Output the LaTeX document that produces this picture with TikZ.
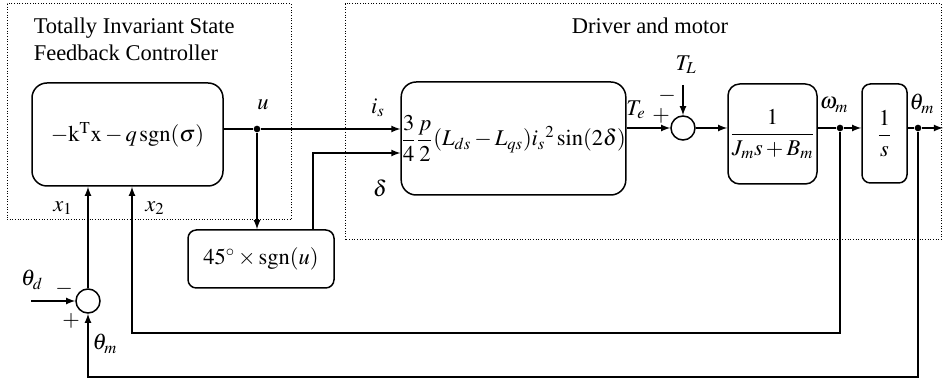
\documentclass[12pt,tikz,border=0pt]{standalone}
\usepackage{amsmath}
\usepackage{mathptmx}
\usepackage{fontspec}
\setmainfont{Liberation Serif}

\begin{document}
\begin{tikzpicture}[x=0.6pt, y=-0.6pt, >=latex, line width=0.9pt,
  font=\fontsize{13.5}{16}\selectfont,
  block/.style={draw, rounded corners=9pt, inner sep=1pt, align=center},
  sumnode/.style={draw, circle, minimum size=14.4pt, inner sep=0pt},
  junc/.style={circle, fill, inner sep=0pt, minimum size=4pt},
  lbl/.style={inner sep=0.5pt},
  frame/.style={densely dotted, line width=0.6pt}]
  \useasboundingbox (0,0) rectangle (944,383);

  % Dotted frames with their titles
  \draw[frame] (7,4) rectangle (291,220);
  \draw[frame] (345,4) rectangle (941,240);
  \node[anchor=north west, align=left, inner sep=0pt, font=\fontsize{13.5}{16.5}\selectfont] (ctitle) at (33,17) {Totally Invariant State\\Feedback Controller};
  \node (dtitle) at (650,26) {Driver and motor};

  % Blocks
  \node[block, minimum width=114.6pt, minimum height=61.8pt] (ctrl) at (127.5,134.5) {$-\mathrm{k}^{\mathrm{T}}\mathrm{x}-q\,\mathrm{sgn}(\sigma)$};
  \node[block, rounded corners=5pt, minimum width=87.6pt, minimum height=34.8pt] (sgnb) at (261,259) {$45^{\circ}\times\mathrm{sgn}(u)$};
  \node[block, inner sep=0pt, minimum width=133.8pt, minimum height=67.8pt] (torque) at (513.5,138.5) {$\dfrac{3}{4}\dfrac{p}{2}(L_{ds}-L_{qs})i_s{}^2\sin(2\delta)$};
  \node[block, rounded corners=7pt, minimum width=53.4pt, minimum height=60pt] (mech) at (772.5,134) {$\dfrac{1}{J_m s+B_m}$};
  \node[block, rounded corners=5pt, minimum width=27pt, minimum height=59.4pt] (integ) at (884.5,133.5) {$\dfrac{1}{s}$};

  % Summing points and branch points
  \node[sumnode] (sumA) at (88,301) {};
  \node[sumnode] (sumB) at (683,128) {};
  \node[junc] (ju) at (257,129) {};
  \node[junc] (jw) at (840,128) {};
  \node[junc] (jt) at (918,128) {};
  \coordinate (thd) at (31,301);
  \coordinate (tl) at (683,85);
  \coordinate (out) at (943,128);

  % Forward path
  \draw (ctrl.east |- ju) -- (ju);
  \draw[->] (ju) -- (torque.west |- ju);
  \draw[->] (ju) -- (ju |- sgnb.north);
  \draw[->] (313,0 |- sgnb.north) |- (torque.west |- 0,153);
  \draw[->] (torque.east |- sumB) -- (sumB);
  \draw[->] (tl) -- (sumB);
  \draw[->] (sumB) -- (mech.west |- sumB);
  \draw (mech.east |- jw) -- (jw);
  \draw[->] (jw) -- (integ.west |- jw);
  \draw (integ.east |- jt) -- (jt);
  \draw[->] (jt) -- (out);

  % Feedback paths
  \draw[->] (jw) |- (132,333) -- (ctrl.south -| 132,0);
  \draw[->] (jt) |- (sumA.south |- 0,377) -- (sumA.south);
  \draw[->] (sumA) -- (ctrl.south -| sumA);
  \draw[->] (thd) -- (sumA);

  % Signal labels
  \node[lbl] (lu) at (263,105) {$u$};
  \node[lbl] (lis) at (378,108) {$i_s$};
  \node[lbl] (ldel) at (380,188) {$\delta$};
  \node[lbl] (lx1) at (63,208) {$x_1$};
  \node[lbl] (lx2) at (155,208) {$x_2$};
  \node[lbl] (lthd) at (32,280) {$\theta_d$};
  \node[lbl] (mA) at (64,289) {$-$};
  \node[lbl] (pA) at (71,321) {$+$};
  \node[lbl] (lthm) at (105,344) {$\theta_m$};
  \node[lbl] (lte) at (636,110) {$T_e$};
  \node[lbl] (pB) at (661,116) {$+$};
  \node[lbl] (mB) at (667,96) {$-$};
  \node[lbl] (ltl) at (686,65) {$T_L$};
  \node[lbl] (lw) at (834,105) {$\omega_m$};
  \node[lbl] (lthm2) at (922,104) {$\theta_m$};
\end{tikzpicture}
\end{document}
